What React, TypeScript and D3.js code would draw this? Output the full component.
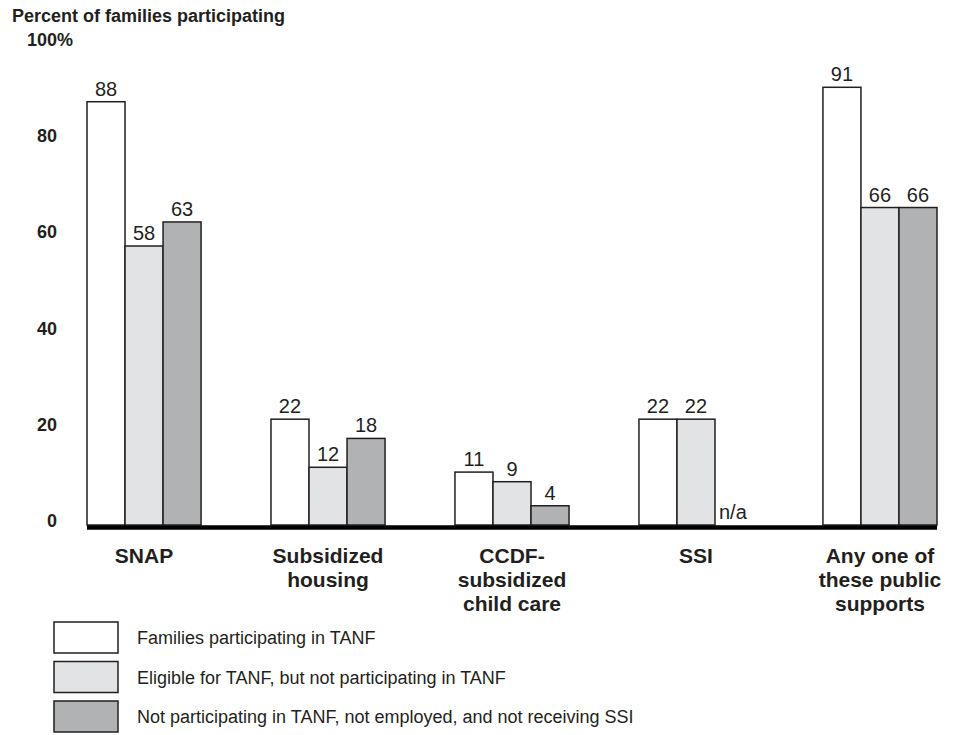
import { useMemo } from 'react'
import * as d3 from "d3"

// data
const categories = ["SNAP", "Subsidized housing", "CCDF-subsidized child care", "SSI", "Any one of these public supports"]
const categoryLines = [["SNAP"], ["Subsidized", "housing"], ["CCDF-", "subsidized", "child care"], ["SSI"], ["Any one of", "these public", "supports"]]
const seriesNames = [
  "Families participating in TANF",
  "Eligible for TANF, but not participating in TANF",
  "Not participating in TANF, not employed, and not receiving SSI",
]
const tanfValues = [88, 22, 11, 22, 91]
const eligibleValues = [58, 12, 9, 22, 66]
const notEmployedValues = [63, 18, 4, null, 66]
const yTicks = [0, 20, 40, 60, 80, 100]

const seriesColors = ["#ffffff", "#e2e3e5", "#b1b2b4"]
const FONT = "'Liberation Sans', Arial, Helvetica, sans-serif"

function App() {
  const width = 957
  const height = 735
  const margin = { left: 87, right: 20, top: 44, bottom: 209 }

  const seriesValues = [tanfValues, eligibleValues, notEmployedValues]

  const x = useMemo(() => d3.scaleBand()
    .domain(categories)
    .range([margin.left, width - margin.right])
    .paddingInner(0.38)
    .paddingOuter(0), [])

  const xInner = useMemo(() => d3.scaleBand()
    .domain(seriesNames)
    .range([0, x.bandwidth()])
    .padding(0), [x])

  const y = useMemo(() => d3.scaleLinear()
    .domain([0, 100])
    .range([height - margin.bottom - 1, margin.top]), [])

  const baseY = y(0)

  return (
    <svg width={width} height={height} style={{ position: 'absolute', left: 0, top: 0, background: '#fff' }}
      fontFamily={FONT}>
      <text x={12} y={22} fontSize={18} fontWeight="bold" fill="#231f20">Percent of families participating</text>

      {/* y tick labels */}
      <g className="y-ticks" fontSize={18} fontWeight="bold" fill="#231f20">
        {yTicks.map(t => (
          <g key={t}>
            <text x={57} y={y(t) - 4} textAnchor="end" dominantBaseline="central">{t}</text>
            {t === 100 && <text x={57} y={y(t) - 4} textAnchor="start" dominantBaseline="central">%</text>}
          </g>
        ))}
      </g>

      {/* bars */}
      <g className="bars">
        {categories.map((c, ci) => (
          <g key={c} transform={`translate(${x(c)},0)`}>
            {seriesNames.map((s, si) => {
              const v = seriesValues[si][ci]
              const bx = xInner(s)!
              const bw = xInner.bandwidth()
              if (v == null) {
                return (
                  <text key={s} x={bx + 4} y={baseY - 6} fontSize={20} fill="#231f20">n/a</text>
                )
              }
              return (
                <g key={s}>
                  <rect x={bx} y={y(v)} width={bw} height={baseY - y(v)}
                    fill={seriesColors[si]} stroke="#231f20" strokeWidth={1.5} />
                  <text x={bx + bw / 2} y={y(v) - 6} textAnchor="middle" fontSize={20} fill="#231f20">{v}</text>
                </g>
              )
            })}
          </g>
        ))}
      </g>

      {/* baseline */}
      <line x1={margin.left} x2={width - margin.right} y1={baseY + 2.5} y2={baseY + 2.5} stroke="#000" strokeWidth={4.5} />

      {/* category labels */}
      <g className="x-labels" fontSize={21} fontWeight="bold" fill="#231f20" textAnchor="middle">
        {categories.map((c, ci) => (
          <text key={c} x={x(c)! + x.bandwidth() / 2} y={563}>
            {categoryLines[ci].map((line, li) => (
              <tspan key={li} x={x(c)! + x.bandwidth() / 2} y={563 + li * 24}>{line}</tspan>
            ))}
          </text>
        ))}
      </g>

      {/* legend */}
      <g className="legend">
        {seriesNames.map((s, si) => (
          <g key={s} transform={`translate(54,${622 + si * 39.5})`}>
            <rect x={0} y={0} width={64} height={31} fill={seriesColors[si]} stroke="#231f20" strokeWidth={1.5} />
            <text x={83} y={22} fontSize={18} fill="#231f20">{s}</text>
          </g>
        ))}
      </g>
    </svg>
  )
}

export default App
